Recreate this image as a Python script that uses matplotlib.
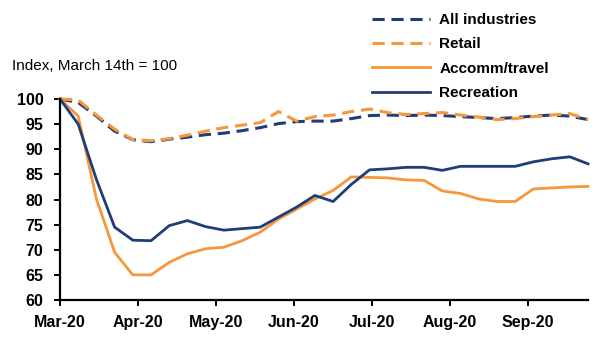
import numpy as np
import matplotlib
matplotlib.use('Agg')
import matplotlib.pyplot as plt

plt.rcParams['font.family'] = ['Liberation Sans', 'DejaVu Sans']

# Weekly index values, March 14th = 100
all_industries = [100, 99.3, 96.6, 93.6, 91.9, 91.5, 92.0, 92.4, 92.9, 93.2,
                  93.7, 94.3, 95.1, 95.5, 95.6, 95.6, 96.1, 96.7, 96.8, 96.7,
                  96.8, 96.7, 96.5, 96.3, 96.1, 96.3, 96.6, 96.8, 96.6, 95.9]
retail = [100, 99.8, 96.8, 94.0, 91.9, 91.7, 92.1, 92.8, 93.6, 94.3,
          94.8, 95.3, 97.5, 95.6, 96.5, 96.8, 97.5, 98.0, 97.3, 96.9,
          97.1, 97.3, 96.8, 96.4, 95.9, 96.1, 96.5, 96.8, 97.1, 95.9]
accomm = [100, 96.6, 80.1, 69.5, 65.0, 65.0, 67.5, 69.2, 70.2, 70.5,
          71.8, 73.5, 76.1, 78.1, 80.1, 81.8, 84.5, 84.4, 84.3, 83.9,
          83.8, 81.7, 81.2, 80.1, 79.6, 79.6, 82.1, 82.3, 82.5, 82.6]
recreation = [100, 95.0, 84.0, 74.5, 71.9, 71.8, 74.8, 75.8, 74.6, 73.9,
              74.2, 74.5, 76.5, 78.5, 80.8, 79.6, 83.0, 85.9, 86.1, 86.4,
              86.4, 85.8, 86.6, 86.6, 86.6, 86.6, 87.5, 88.1, 88.5, 87.1]
month_labels = ['Mar-20', 'Apr-20', 'May-20', 'Jun-20', 'Jul-20', 'Aug-20', 'Sep-20']

navy = '#1F3E78'
orange = '#F7963B'

weeks = np.arange(len(all_industries))

fig = plt.figure(figsize=(6.08, 3.5), dpi=100)
ax = fig.add_axes([60/608, 1 - 300/350, 528/608, 201/350])

dash = (0, (4, 2.2))
ax.plot(weeks, all_industries, color=navy, lw=2.2, ls=dash,
        label='All industries', clip_on=False)
ax.plot(weeks, retail, color=orange, lw=2.2, ls=dash,
        label='Retail', clip_on=False)
ax.plot(weeks, accomm, color=orange, lw=2.0, label='Accomm/travel', clip_on=False)
ax.plot(weeks, recreation, color=navy, lw=2.0, label='Recreation', clip_on=False)

ax.set_xlim(0, len(weeks) - 1)
ax.set_ylim(60, 100)
ax.set_yticks(np.arange(60, 101, 5))
ax.set_xticks(np.arange(len(month_labels)) * 30 / 7)
ax.set_xticklabels(month_labels)

for s in ['top', 'right']:
    ax.spines[s].set_visible(False)
for s in ['left', 'bottom']:
    ax.spines[s].set_linewidth(1.6)
    ax.spines[s].set_color('black')
ax.tick_params(axis='both', length=4, width=1.4, labelsize=11.5, direction='out')
ax.tick_params(axis='y', pad=8)
ax.tick_params(axis='x', pad=7)
for lab in ax.get_xticklabels() + ax.get_yticklabels():
    lab.set_fontweight('bold')

fig.text(12/608, 1 - 66/350, 'Index, March 14th = 100', fontsize=11,
         va='center', ha='left')

fig.legend(loc='upper left', bbox_to_anchor=(372/608, 1 - 13/350),
           frameon=False, handlelength=3.8, handletextpad=0.6,
           labelspacing=0.68, borderpad=0, borderaxespad=0,
           prop={'weight': 'bold', 'size': 11})

fig.savefig('out.png', dpi=100)
